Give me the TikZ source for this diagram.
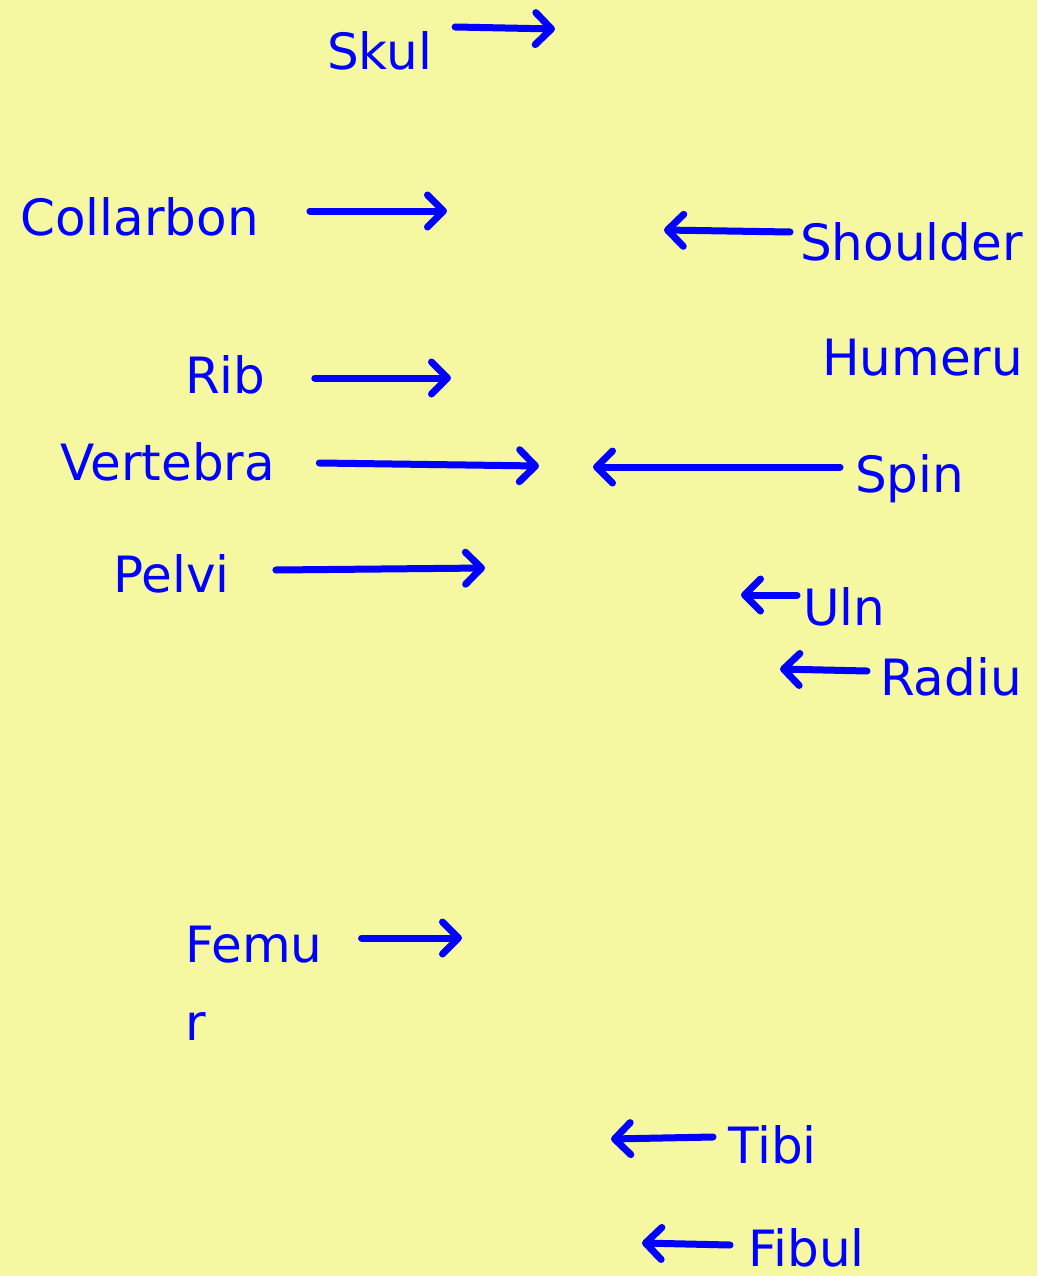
\documentclass[tikz,border=0pt]{standalone}
\usepackage{fontspec}
\setmainfont{DejaVu Sans}
\usetikzlibrary{arrows.meta,positioning}

\definecolor{padyellow}{RGB}{245,248,160}
\definecolor{inkblue}{RGB}{0,0,255}

\tikzset{
  bonelabel/.style={inner sep=0pt, anchor=base west, text=inkblue,
    font=\fontsize{50}{60}\selectfont},
  bonearrow/.style={draw=inkblue, line width=7pt, line cap=round,
    -{Straight Barb[length=16pt, width=32pt, line cap=round, line join=round]}}
}

\begin{document}
\begin{tikzpicture}[x=1pt,y=-1pt]
      \fill[padyellow] (0,0) rectangle (1037,1276);
      \useasboundingbox (0,0) rectangle (1037,1276);

      % labels on the left
      \node[bonelabel] (skul) at (327,70) {Skul};
      \node[bonelabel] (collarbon) at (20,235) {Collarbon};
      \node[bonelabel] (rib) at (185,393) {Rib};
      \node[bonelabel] (vertebra) at (60,480) {Vertebra};
      \node[bonelabel] (pelvi) at (113,592) {Pelvi};
      \node[bonelabel] (femu) at (185,962) {Femu};
      \node[bonelabel] (femur) at (185,1040) {r};

      % labels on the right
      \node[bonelabel] (shoulder) at (800,260) {Shoulder};
      \node[bonelabel] (humeru) at (822,375) {Humeru};
      \node[bonelabel] (spin) at (855,492) {Spin};
      \node[bonelabel] (uln) at (803,625) {Uln};
      \node[bonelabel] (radiu) at (880,695) {Radiu};
      \node[bonelabel] (tibi) at (728,1163) {Tibi};
      \node[bonelabel] (fibul) at (748,1266) {Fibul};

      % arrow tips
      \coordinate (skulT) at (555,29);
      \coordinate (collarbonT) at (447,211);
      \coordinate (ribT) at (451,378);
      \coordinate (vertebraT) at (539,466);
      \coordinate (pelviT) at (485,568);
      \coordinate (femuT) at (462,938);
      \coordinate (shoulderT) at (664,230);
      \coordinate (spinT) at (593,467);
      \coordinate (ulnT) at (741,595);
      \coordinate (radiuT) at (780,669);
      \coordinate (tibiT) at (611,1139);
      \coordinate (fibulT) at (642,1243);

      \draw[bonearrow] ([shift={(23,-43)}]skul.base east) -- (skulT);
      \draw[bonearrow] ([shift={(51,-24)}]collarbon.base east) -- (collarbonT);
      \draw[bonearrow] ([shift={(49,-15)}]rib.base east) -- (ribT);
      \draw[bonearrow] ([shift={(44,-17)}]vertebra.base east) -- (vertebraT);
      \draw[bonearrow] ([shift={(46,-22)}]pelvi.base east) -- (pelviT);
      \draw[bonearrow] ([shift={(39,-24)}]femu.base east) -- (femuT);

      \draw[bonearrow] ([shift={(-10,-28)}]shoulder.base west) -- (shoulderT);
      \draw[bonearrow] ([shift={(-15,-25)}]spin.base west) -- (spinT);
      \draw[bonearrow] ([shift={(-6,-30)}]uln.base west) -- (ulnT);
      \draw[bonearrow] ([shift={(-13,-24)}]radiu.base west) -- (radiuT);
      \draw[bonearrow] ([shift={(-15,-26)}]tibi.base west) -- (tibiT);
      \draw[bonearrow] ([shift={(-18,-21)}]fibul.base west) -- (fibulT);
\end{tikzpicture}
\end{document}
